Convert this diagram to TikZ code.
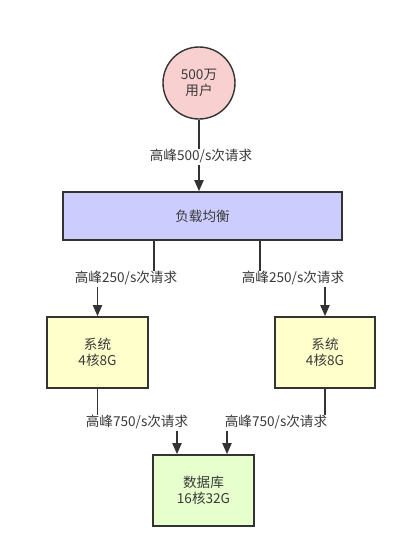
\documentclass[tikz,border=0pt]{standalone}
\usepackage{fontspec}
\setmainfont{Noto Sans CJK SC}
\usetikzlibrary{arrows.meta}
\definecolor{ink}{HTML}{333333}
\definecolor{txt}{HTML}{3A3A3A}
\definecolor{pinkfill}{HTML}{F9D0D0}
\definecolor{lbfill}{HTML}{CCCCFF}
\definecolor{sysfill}{HTML}{FFFFCC}
\definecolor{dbfill}{HTML}{E6FFCC}
\tikzset{
  txtfont/.style={font=\fontsize{13.6}{16.5}\selectfont, text=txt},
  userbox/.style={circle, draw=ink, line width=1.4pt, fill=pinkfill, minimum size=72pt, inner sep=0pt, align=center, txtfont},
  boxstyle/.style={rectangle, draw=ink, line width=1.6pt, align=center, inner sep=0pt, txtfont},
  lbl/.style={txtfont, inner sep=1pt, text height=10.5pt, text depth=3pt, fill=white},
  conn/.style={draw=ink, line width=1.8pt},
  arr/.style={draw=ink, line width=1.8pt, -{Triangle[length=11pt,width=9pt]}},
}
\begin{document}
\begin{tikzpicture}[x=1pt,y=-1pt]
\useasboundingbox[fill=white] (0,0) rectangle (407,558);
% nodes
\node[userbox] (user) at (199,83) {500万\\用户};
\node[boxstyle, fill=lbfill, minimum width=279pt, minimum height=48pt] (lb) at (202.5,216) {负载均衡};
\node[boxstyle, fill=sysfill, minimum width=101pt, minimum height=71pt] (sysL) at (97.5,352.5) {系统\\4核8G};
\node[boxstyle, fill=sysfill, minimum width=100pt, minimum height=71pt] (sysR) at (325,352.5) {系统\\4核8G};
\node[boxstyle, fill=dbfill, minimum width=101pt, minimum height=71pt] (db) at (203.5,490.5) {数据库\\16核32G};
% labels
\node[lbl] (l1) at (201,157) {高峰500/s次请求};
\node[lbl] (l2L) at (126,279) {高峰250/s次请求};
\node[lbl] (l2R) at (293,279) {高峰250/s次请求};
\node[lbl] (l3L) at (137,423) {高峰750/s次请求};
\node[lbl] (l3R) at (276,423) {高峰750/s次请求};
% helper x positions
\coordinate (xa) at (154,0);
\coordinate (xb) at (260,0);
\coordinate (xc) at (177,0);
\coordinate (xd) at (227,0);
% connectors
\draw[conn] (user.south) -- (l1.north -| user.south);
\draw[arr] (l1.south -| user.south) -- (lb.north -| user.south);
\draw[conn] (lb.south -| xa) -- (l2L.north -| xa);
\draw[arr] (l2L.south -| sysL.north) -- (sysL.north);
\draw[conn] (lb.south -| xb) -- (l2R.north -| xb);
\draw[arr] (l2R.south -| sysR.north) -- (sysR.north);
\draw[conn] (sysL.south) -- (l3L.north -| sysL.south);
\draw[arr] (l3L.south -| xc) -- (db.north -| xc);
\draw[conn] (sysR.south) -- (l3R.north -| sysR.south);
\draw[arr] (l3R.south -| xd) -- (db.north -| xd);
\end{tikzpicture}
\end{document}
